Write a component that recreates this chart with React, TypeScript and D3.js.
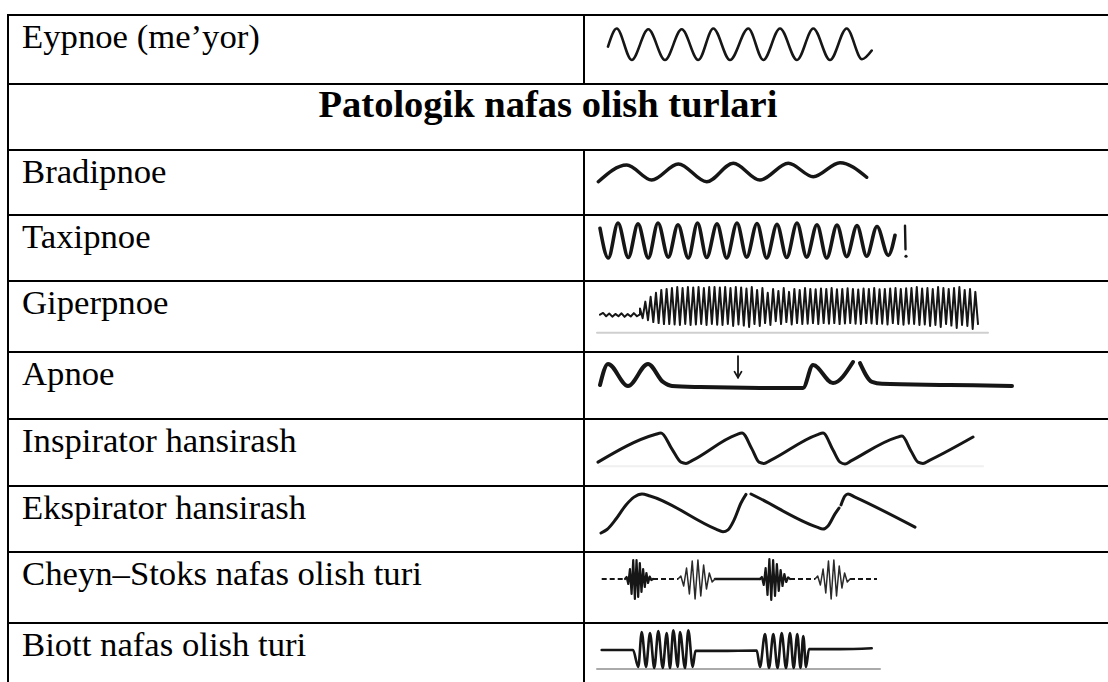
import React from "react";
import * as d3 from "d3";

type Pt = [number, number];

// row labels, top to bottom
const rowLabels = [
  "Eypnoe (me’yor)",
  "Patologik nafas olish turlari",
  "Bradipnoe",
  "Taxipnoe",
  "Giperpnoe",
  "Apnoe",
  "Inspirator hansirash",
  "Ekspirator hansirash",
  "Cheyn–Stoks nafas olish turi",
  "Biott nafas olish turi",
];

// traces: [time, amplitude]
const eypnoeTrace: Pt[] = [
  [1.0, -0.15], [1.87, 1], [3.37, -1], [5.03, 0.95], [6.7, -1], [8.37, 0.95], [10.03, -1],
  [11.53, 1], [13.2, -1], [15.03, 1], [16.53, -1], [18.2, 1], [19.9, -1], [21.53, 1],
  [23.2, -1], [24.87, 1], [26.4, -0.95], [27.37, -0.4],
];

const bradipnoeTrace: Pt[] = [
  [0.03, -1.08], [2.87, 0.78], [5.37, -0.89], [8.03, 0.89], [10.87, -1.08], [13.53, 0.97],
  [16.2, -0.89], [19.03, 0.97], [21.53, -0.52], [24.2, 1.03], [26.87, -0.59],
];

const taxipnoeTrace: Pt[] = [
  [0.2, 0.7], [1.03, -1], [2.0, 1], [3.03, -0.97], [4.0, 0.95], [5.03, -1], [6.0, 1],
  [7.03, -0.95], [8.0, 0.9], [9.03, -1], [9.95, 1], [10.87, -0.97], [11.9, 0.95], [12.87, -1],
  [13.9, 1], [14.87, -0.95], [15.9, 0.97], [16.87, -1], [17.9, 0.92], [18.87, -0.97],
  [19.9, 1], [20.87, -0.95], [21.9, 0.9], [22.87, -1], [23.9, 0.88], [24.87, -0.92],
  [25.9, 0.85], [26.87, -0.9], [27.9, 0.8], [29.03, -0.85], [29.7, 0.3],
];
const taxipnoeTick: Pt[] = [[30.7, 0.85], [30.75, -0.5]];
const taxipnoeDot: Pt = [30.8, -0.9];

const gipRipple = [-0.42, -0.33, -0.5, -0.36, -0.52, -0.38, -0.5, -0.35, -0.53, -0.39, -0.51, -0.34, -0.5, -0.4];
const gipTops = [
  -0.1, 0.25, 0.5, 0.7, 0.85, 0.9, 0.95, 1.0, 0.95, 1.0, 0.98, 1.0, 0.95, 1.0, 1.0, 0.97,
  1.0, 0.95, 1.0, 0.98, 0.92, 1.0, 0.85, 0.95, 0.7, 0.9, 0.8, 0.95, 0.75, 0.9, 0.85, 0.95,
  0.9, 0.88, 0.92, 0.9, 0.95, 0.88, 0.9, 0.93, 0.9, 0.87, 0.92, 0.9, 0.95, 0.88, 0.9, 0.92,
  0.95, 0.9, 0.93, 0.95, 1.0, 0.92, 0.95, 0.9, 1.0, 0.95, 0.9, 0.95, 1.0, 0.85, 0.9, 0.75,
];
const gipBottoms = [
  -0.6, -0.7, -0.8, -0.85, -0.9, -0.9, -0.92, -0.95, -0.9, -0.95, -0.92, -0.9, -0.95, -0.9, -0.93, -0.95,
  -0.9, -1.0, -0.92, -0.98, -1.05, -0.9, -1.0, -0.85, -0.95, -0.75, -0.9, -0.8, -0.92, -0.85, -0.9, -0.88,
  -0.85, -0.9, -0.85, -0.88, -0.85, -0.9, -0.87, -0.85, -0.88, -0.9, -0.85, -0.87, -0.9, -0.88, -0.92, -0.85,
  -0.9, -0.93, -0.88, -0.9, -0.95, -0.92, -1.0, -0.95, -1.05, -0.9, -0.98, -1.1, -0.95, -1.0, -1.15, -0.9,
];

const apnoeTrace1: Pt[] = [
  [0.2, 0.15], [1.0, 0.93], [3.0, 0.11], [5.0, 0.93], [6.5, 0.26], [7.4, 0.11], [10.2, 0.07],
  [16.2, 0.04], [20.5, 0.04], [21.5, 0.89], [23.5, 0.22], [25.5, 1.0],
];
const apnoeTrace2: Pt[] = [[26.2, 0.96], [27.4, 0.26], [28.4, 0.19], [35.2, 0.15], [41.4, 0.11]];
const apnoeArrow = { t: 14.0, from: 1.22, to: 0.42 };

const inspTrace: Pt[] = [
  [0, 0.06], [5.7, 0.95], [6.3, 1.0], [7.4, 0.48], [8.3, 0.06], [8.8, 0.02], [9.4, 0.11],
  [13.8, 0.94], [14.4, 1], [15.4, 0.48], [16.1, 0.06], [16.6, 0.02], [17.2, 0.11],
  [21.9, 0.94], [22.5, 1], [23.5, 0.45], [24.2, 0.06], [24.7, 0], [25.3, 0.1],
  [29.8, 0.85], [30.4, 0.9], [31.3, 0.42], [32, 0.06], [32.5, 0.02], [33.1, 0.11], [37.5, 0.87],
];

const ekspTrace1: Pt[] = [
  [0.3, 0], [0.9, 0.09], [1.8, 0.36], [2.8, 0.72], [3.6, 0.92], [4.4, 1.0], [5.2, 0.95],
  [11.8, 0.1], [12.5, 0.03], [13, 0.08], [13.6, 0.33], [14.3, 0.77], [14.8, 0.99],
];
const ekspTrace2: Pt[] = [
  [15.3, 1.0], [16, 0.91], [21.9, 0.15], [22.5, 0.1], [23, 0.18], [23.7, 0.49], [24.1, 0.64],
];
const ekspTrace3: Pt[] = [[24.3, 0.72], [24.7, 0.95], [25, 1.0], [25.7, 0.92], [31.7, 0.15]];

const csDashed: Pt[] = [[0.37, 2.7], [5.5, 8.0], [19.2, 21.7], [25.2, 27.9]];
const csSolid: Pt[] = [[11.7, 16.2]];
const csBursts = [
  { start: 2.7, end: 5.5, amps: [0.1, 0.25, 0.5, 0.75, 0.95, 1.0, 0.95, 0.9, 0.8, 0.65, 0.5, 0.4, 0.3, 0.2, 0.12, 0.05] },
  { start: 8.0, end: 11.7, amps: [0.15, 0.35, 0.55, 0.75, 0.9, 1.0, 0.95, 0.85, 0.7, 0.5, 0.3, 0.15] },
  { start: 16.2, end: 19.2, amps: [0.1, 0.3, 0.55, 0.8, 1.0, 1.05, 0.95, 0.85, 0.75, 0.6, 0.45, 0.35, 0.25, 0.15, 0.08] },
  { start: 21.7, end: 25.2, amps: [0.15, 0.3, 0.5, 0.7, 0.9, 1.0, 0.95, 0.85, 0.65, 0.45, 0.3, 0.15] },
];

const biottTrace: Pt[] = [
  [0.37, 0], [3.5, 0], [4.03, -0.94], [4.37, 1], [4.8, -0.94], [5.2, 0.94], [5.63, -1],
  [6.03, 1.05], [6.47, -1], [6.87, 0.94], [7.2, -1], [7.53, 1.1], [7.97, -0.94], [8.2, 1],
  [8.7, -1], [9.03, 1.1], [9.47, -0.94], [9.75, -0.05], [12.2, -0.05], [15.87, -0.03],
  [16.2, -0.94], [16.7, 0.89], [17.1, -1], [17.53, 0.89], [17.95, -1], [18.37, 0.94],
  [18.8, -1], [19.2, 0.94], [19.57, -1], [19.93, 0.89], [20.25, -1], [20.53, 0.78],
  [20.8, -0.94], [21.1, 0.05], [24.2, 0.05], [27.37, 0.1],
];

const W = 1108;
const H = 682;
const LEFT = 8;
const DIV = 584;
const rowTop = [15, 84, 150, 215, 281, 352, 419, 486, 552, 623];
const INK = "#161616";

const x = d3.scaleLinear().domain([0, 41]).range([598, 1008]);
const yBand = (lo: number, hi: number, bottom: number, top: number) =>
  d3.scaleLinear().domain([lo, hi]).range([bottom, top]);

const mkLine = (y: d3.ScaleLinear<number, number>, curve: d3.CurveFactory = d3.curveMonotoneX) =>
  d3.line<Pt>().x(d => x(d[0])).y(d => y(d[1])).curve(curve);

const App = () => {
  const yEyp = yBand(-1, 1, 60, 28.5);
  const yBrad = yBand(-1, 1, 181, 163);
  const yTax = yBand(-1, 1, 258, 223);
  const yGip = yBand(-1, 1, 326, 287);
  const yApn = yBand(0, 1, 389, 362);
  const yInsp = yBand(0, 1, 464, 433);
  const yEksp = yBand(0, 1, 533, 494);
  const yCs = yBand(-1, 1, 599, 559);
  const yBio = yBand(-1, 1, 668, 632);

  // giperpnoe: ripple then dense oscillation
  const rippleT = d3.scaleLinear().domain([0, gipRipple.length - 1]).range([0.2, 4.2]);
  const ripplePts: Pt[] = gipRipple.map((v, i) => [rippleT(i), v]);
  const n = Math.min(gipTops.length, gipBottoms.length);
  const denseT = d3.scaleLinear().domain([0, 2 * n - 1]).range([4.2, 38.0]);
  const densePts: Pt[] = d3.range(n).flatMap(i => [
    [denseT(2 * i), gipTops[i]] as Pt,
    [denseT(2 * i + 1), gipBottoms[i]] as Pt,
  ]);
  const gipPts = [...ripplePts, ...densePts];

  const csBurstPaths = csBursts.map(b => {
    const bt = d3.scaleLinear().domain([0, b.amps.length + 1]).range([b.start, b.end]);
    const pts: Pt[] = [[b.start, 0], ...b.amps.map((a, i) => [bt(i + 1), i % 2 ? -a : a] as Pt), [b.end, 0]];
    return mkLine(yCs, d3.curveLinear)(pts) || "";
  });

  const ax = x(apnoeArrow.t);
  const ay0 = yApn(apnoeArrow.from);
  const ay1 = yApn(apnoeArrow.to);

  const font = "'Liberation Serif', 'Times New Roman', serif";

  return (
    <svg width={W} height={H} style={{ position: "absolute", left: 0, top: 0, background: "#fff" }}>
      <rect x={0} y={0} width={W} height={H} fill="#fff" />

      {/* table rules */}
      {rowTop.map((y, i) => (
        <line key={"h" + i} x1={LEFT - 1} x2={W} y1={y} y2={y} stroke="#000" strokeWidth={2} />
      ))}
      <line x1={LEFT} x2={LEFT} y1={rowTop[0] - 1} y2={H} stroke="#000" strokeWidth={2} />
      <line x1={DIV} x2={DIV} y1={rowTop[0]} y2={rowTop[1]} stroke="#000" strokeWidth={2} />
      <line x1={DIV} x2={DIV} y1={rowTop[2]} y2={H} stroke="#000" strokeWidth={2} />

      {/* labels */}
      {rowLabels.map((label, i) =>
        i === 1 ? (
          <text key={i} x={548} y={rowTop[i] + 33} textAnchor="middle" fontFamily={font} fontWeight="bold" fontSize={38.5} fill="#000">
            {label}
          </text>
        ) : (
          <text key={i} x={22} y={rowTop[i] + 32.5} fontFamily={font} fontSize={34.7} fill="#000">
            {label}
          </text>
        )
      )}

      <g fill="none" stroke={INK} strokeLinecap="round" strokeLinejoin="round">
        {/* Eypnoe */}
        <path d={mkLine(yEyp)(eypnoeTrace) || ""} strokeWidth={2.6} />
        {/* Bradipnoe */}
        <path d={mkLine(yBrad)(bradipnoeTrace) || ""} strokeWidth={3.4} />
        {/* Taxipnoe */}
        <path d={mkLine(yTax)(taxipnoeTrace) || ""} strokeWidth={3.6} />
        <path d={mkLine(yTax, d3.curveLinear)(taxipnoeTick) || ""} strokeWidth={2.4} />
        <circle cx={x(taxipnoeDot[0])} cy={yTax(taxipnoeDot[1])} r={1.6} fill={INK} stroke="none" />
        {/* Giperpnoe */}
        <line x1={x(-0.1)} x2={x(39)} y1={yGip(-1.35)} y2={yGip(-1.35)} stroke="#cfcfcf" strokeWidth={2} />
        <path d={mkLine(yGip, d3.curveLinear)(gipPts) || ""} strokeWidth={2} />
        {/* Apnoe */}
        <path d={mkLine(yApn)(apnoeTrace1) || ""} strokeWidth={4} />
        <path d={mkLine(yApn)(apnoeTrace2) || ""} strokeWidth={4} />
        <line x1={ax} x2={ax} y1={ay0} y2={ay1} strokeWidth={1.8} />
        <path d={`M${ax - 3.5},${ay1 - 6} L${ax},${ay1} L${ax + 3.5},${ay1 - 6}`} strokeWidth={1.8} />
        {/* Inspirator */}
        <line x1={x(0.1)} x2={x(38.5)} y1={yInsp(-0.07)} y2={yInsp(-0.07)} stroke="#f0f0f0" strokeWidth={2} />
        <path d={mkLine(yInsp)(inspTrace) || ""} strokeWidth={3} />
        {/* Ekspirator */}
        {[ekspTrace1, ekspTrace2, ekspTrace3].map((tr, i) => (
          <path key={"e" + i} d={mkLine(yEksp)(tr) || ""} strokeWidth={3} />
        ))}
        {/* Cheyne-Stokes */}
        {csDashed.map((seg, i) => (
          <line key={"d" + i} x1={x(seg[0])} x2={x(seg[1])} y1={yCs(0)} y2={yCs(0)} strokeWidth={2} strokeDasharray="5 3" strokeLinecap="butt" />
        ))}
        {csSolid.map((seg, i) => (
          <line key={"s" + i} x1={x(seg[0])} x2={x(seg[1])} y1={yCs(0)} y2={yCs(0)} strokeWidth={2.6} />
        ))}
        {csBurstPaths.map((d, i) => (
          <path key={"b" + i} d={d} strokeWidth={i % 2 ? 1.5 : 2.2} stroke={i % 2 ? "#2a2a2a" : INK} />
        ))}
        {/* Biott */}
        <line x1={x(-0.1)} x2={x(28.2)} y1={yBio(-1.05)} y2={yBio(-1.05)} stroke="#aaaaaa" strokeWidth={2} />
        <path d={mkLine(yBio)(biottTrace) || ""} strokeWidth={2.6} />
      </g>
    </svg>
  );
};

export default App;
